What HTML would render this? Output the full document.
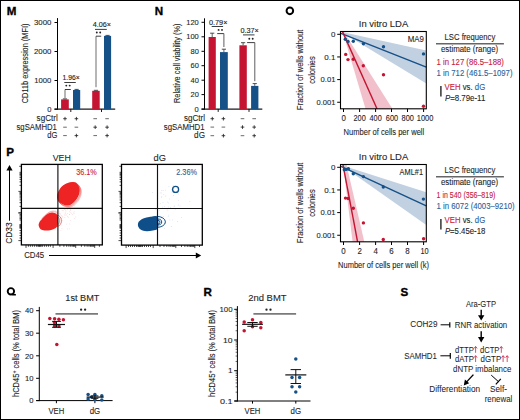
<!DOCTYPE html>
<html><head><meta charset="utf-8"><style>
html,body{margin:0;padding:0;background:#fff;}
#c{position:relative;width:520px;height:420px;overflow:hidden;background:#fff;}
#c svg{position:absolute;left:0;top:0;}
#b{position:absolute;left:0;top:0;width:518px;height:418px;border:1px solid #000;}
text{font-family:"Liberation Sans",sans-serif;}
</style></head><body>
<div id="c">
<svg width="520" height="420" viewBox="0 0 520 420">
<text x="6.70" y="15.00" font-size="11.6" text-anchor="start" fill="#000" font-weight="bold" stroke="#000" stroke-width="0.35">M</text>
<text x="154.80" y="15.00" font-size="11.6" text-anchor="start" fill="#000" font-weight="bold" stroke="#000" stroke-width="0.35">N</text>
<text x="6.30" y="156.40" font-size="11.6" text-anchor="start" fill="#000" font-weight="bold" stroke="#000" stroke-width="0.35">P</text>
<text x="203.60" y="295.60" font-size="11.6" text-anchor="start" fill="#000" font-weight="bold" stroke="#000" stroke-width="0.35">R</text>
<text x="400.60" y="295.60" font-size="11.6" text-anchor="start" fill="#000" font-weight="bold" stroke="#000" stroke-width="0.35">S</text>
<circle cx="289.85" cy="10.85" r="3.3" fill="none" stroke="#000" stroke-width="1.95"/>
<circle cx="10.9" cy="291.35" r="3.2" fill="none" stroke="#000" stroke-width="1.9"/>
<path d="M12.6,293.7 L15.9,293.9 L15.9,295.5 L12.2,295.5 Z" fill="#000"/>
<line x1="57.50" y1="18.10" x2="57.50" y2="109.70" stroke="#000" stroke-width="1" />
<line x1="54.50" y1="109.20" x2="115.20" y2="109.20" stroke="#1a1a1a" stroke-width="1.25" />
<line x1="54.50" y1="22.50" x2="57.50" y2="22.50" stroke="#000" stroke-width="1" />
<text x="34.00" y="24.90" font-size="8.0" text-anchor="start" fill="#1e1e1e" font-weight="normal" stroke="#1e1e1e" stroke-width="0.1" textLength="17.40" lengthAdjust="spacingAndGlyphs">3000</text>
<line x1="54.50" y1="51.50" x2="57.50" y2="51.50" stroke="#000" stroke-width="1" />
<text x="34.00" y="53.90" font-size="8.0" text-anchor="start" fill="#1e1e1e" font-weight="normal" stroke="#1e1e1e" stroke-width="0.1" textLength="17.40" lengthAdjust="spacingAndGlyphs">2000</text>
<line x1="54.50" y1="80.50" x2="57.50" y2="80.50" stroke="#000" stroke-width="1" />
<text x="34.30" y="82.90" font-size="8.0" text-anchor="start" fill="#1e1e1e" font-weight="normal" stroke="#1e1e1e" stroke-width="0.1" textLength="17.10" lengthAdjust="spacingAndGlyphs">1000</text>
<line x1="54.50" y1="109.20" x2="57.50" y2="109.20" stroke="#000" stroke-width="1" />
<text x="47.20" y="111.60" font-size="8.0" text-anchor="start" fill="#1e1e1e" font-weight="normal" stroke="#1e1e1e" stroke-width="0.1" textLength="4.20" lengthAdjust="spacingAndGlyphs">0</text>
<line x1="70.80" y1="109.20" x2="70.80" y2="112.00" stroke="#000" stroke-width="0.9" />
<line x1="101.50" y1="109.20" x2="101.50" y2="112.00" stroke="#000" stroke-width="0.9" />
<rect x="61.10" y="99.40" width="7.70" height="9.80" fill="#c41432" />
<line x1="64.95" y1="99.40" x2="64.95" y2="98.90" stroke="#3a3a3a" stroke-width="0.8" />
<line x1="62.85" y1="98.90" x2="67.05" y2="98.90" stroke="#3a3a3a" stroke-width="0.9" />
<rect x="73.00" y="90.00" width="7.20" height="19.20" fill="#155087" />
<line x1="76.60" y1="90.00" x2="76.60" y2="89.40" stroke="#3a3a3a" stroke-width="0.8" />
<line x1="74.50" y1="89.40" x2="78.70" y2="89.40" stroke="#3a3a3a" stroke-width="0.9" />
<rect x="92.20" y="90.80" width="7.50" height="18.40" fill="#c41432" />
<line x1="95.95" y1="90.80" x2="95.95" y2="90.30" stroke="#3a3a3a" stroke-width="0.8" />
<line x1="93.85" y1="90.30" x2="98.05" y2="90.30" stroke="#3a3a3a" stroke-width="0.9" />
<rect x="104.00" y="35.90" width="7.10" height="73.30" fill="#155087" />
<line x1="107.55" y1="35.90" x2="107.55" y2="35.40" stroke="#3a3a3a" stroke-width="0.8" />
<line x1="105.45" y1="35.40" x2="109.65" y2="35.40" stroke="#3a3a3a" stroke-width="0.9" />
<text x="62.60" y="79.90" font-size="7.0" text-anchor="start" fill="#222" font-weight="normal" stroke="#222" stroke-width="0.12" textLength="17.20" lengthAdjust="spacingAndGlyphs">1.96×</text>
<line x1="64.30" y1="82.50" x2="75.80" y2="82.50" stroke="#333" stroke-width="0.95" />
<circle cx="66.30" cy="85.60" r="0.95" fill="#222" />
<circle cx="69.70" cy="85.60" r="0.95" fill="#222" />
<line x1="65.00" y1="98.20" x2="65.00" y2="89.50" stroke="#666" stroke-width="0.95" />
<line x1="65.00" y1="89.50" x2="70.80" y2="89.50" stroke="#333" stroke-width="0.95" />
<text x="92.80" y="27.40" font-size="7.0" text-anchor="start" fill="#222" font-weight="normal" stroke="#222" stroke-width="0.12" textLength="18.20" lengthAdjust="spacingAndGlyphs">4.06×</text>
<line x1="95.00" y1="29.40" x2="106.80" y2="29.40" stroke="#333" stroke-width="0.95" />
<circle cx="96.80" cy="32.50" r="0.95" fill="#222" />
<circle cx="100.20" cy="32.50" r="0.95" fill="#222" />
<line x1="96.00" y1="87.20" x2="96.00" y2="36.20" stroke="#666" stroke-width="0.95" />
<line x1="96.00" y1="36.20" x2="101.20" y2="36.20" stroke="#333" stroke-width="0.95" />
<text x="36.60" y="121.10" font-size="8.3" text-anchor="start" fill="#1e1e1e" font-weight="normal" stroke="#1e1e1e" stroke-width="0.1" textLength="21.10" lengthAdjust="spacingAndGlyphs">sgCtrl</text>
<text x="16.50" y="129.60" font-size="8.3" text-anchor="start" fill="#1e1e1e" font-weight="normal" stroke="#1e1e1e" stroke-width="0.1" textLength="40.40" lengthAdjust="spacingAndGlyphs">sgSAMHD1</text>
<text x="47.20" y="137.60" font-size="8.3" text-anchor="start" fill="#1e1e1e" font-weight="normal" stroke="#1e1e1e" stroke-width="0.1" textLength="10.10" lengthAdjust="spacingAndGlyphs">dG</text>
<line x1="63.20" y1="118.70" x2="66.80" y2="118.70" stroke="#222" stroke-width="0.85" />
<line x1="65.00" y1="116.90" x2="65.00" y2="120.50" stroke="#222" stroke-width="0.85" />
<line x1="74.60" y1="118.70" x2="78.20" y2="118.70" stroke="#222" stroke-width="0.85" />
<line x1="76.40" y1="116.90" x2="76.40" y2="120.50" stroke="#222" stroke-width="0.85" />
<line x1="93.40" y1="118.70" x2="97.00" y2="118.70" stroke="#444" stroke-width="0.8" />
<line x1="105.30" y1="118.70" x2="108.90" y2="118.70" stroke="#444" stroke-width="0.8" />
<line x1="63.20" y1="127.20" x2="66.80" y2="127.20" stroke="#444" stroke-width="0.8" />
<line x1="74.60" y1="127.20" x2="78.20" y2="127.20" stroke="#444" stroke-width="0.8" />
<line x1="93.40" y1="127.20" x2="97.00" y2="127.20" stroke="#222" stroke-width="0.85" />
<line x1="95.20" y1="125.40" x2="95.20" y2="129.00" stroke="#222" stroke-width="0.85" />
<line x1="105.30" y1="127.20" x2="108.90" y2="127.20" stroke="#222" stroke-width="0.85" />
<line x1="107.10" y1="125.40" x2="107.10" y2="129.00" stroke="#222" stroke-width="0.85" />
<line x1="63.20" y1="135.60" x2="66.80" y2="135.60" stroke="#444" stroke-width="0.8" />
<line x1="74.60" y1="135.60" x2="78.20" y2="135.60" stroke="#222" stroke-width="0.85" />
<line x1="76.40" y1="133.80" x2="76.40" y2="137.40" stroke="#222" stroke-width="0.85" />
<line x1="93.40" y1="135.60" x2="97.00" y2="135.60" stroke="#444" stroke-width="0.8" />
<line x1="105.30" y1="135.60" x2="108.90" y2="135.60" stroke="#222" stroke-width="0.85" />
<line x1="107.10" y1="133.80" x2="107.10" y2="137.40" stroke="#222" stroke-width="0.85" />
<text transform="translate(27.90,63.40) rotate(-90)" x="0" y="0" font-size="8.6" text-anchor="middle" fill="#1e1e1e" font-weight="normal" stroke="#1e1e1e" stroke-width="0.1" textLength="79.70" lengthAdjust="spacingAndGlyphs">CD11b expression (MFI)</text>
<line x1="204.50" y1="18.30" x2="204.50" y2="109.60" stroke="#000" stroke-width="1" />
<line x1="201.50" y1="109.10" x2="262.30" y2="109.10" stroke="#1a1a1a" stroke-width="1.25" />
<line x1="201.50" y1="22.30" x2="204.50" y2="22.30" stroke="#000" stroke-width="1" />
<text x="186.30" y="24.70" font-size="8.0" text-anchor="start" fill="#1e1e1e" font-weight="normal" stroke="#1e1e1e" stroke-width="0.1" textLength="12.50" lengthAdjust="spacingAndGlyphs">120</text>
<line x1="201.50" y1="36.80" x2="204.50" y2="36.80" stroke="#000" stroke-width="1" />
<text x="186.30" y="39.20" font-size="8.0" text-anchor="start" fill="#1e1e1e" font-weight="normal" stroke="#1e1e1e" stroke-width="0.1" textLength="12.50" lengthAdjust="spacingAndGlyphs">100</text>
<line x1="201.50" y1="51.30" x2="204.50" y2="51.30" stroke="#000" stroke-width="1" />
<text x="190.50" y="53.70" font-size="8.0" text-anchor="start" fill="#1e1e1e" font-weight="normal" stroke="#1e1e1e" stroke-width="0.1" textLength="8.30" lengthAdjust="spacingAndGlyphs">80</text>
<line x1="201.50" y1="65.70" x2="204.50" y2="65.70" stroke="#000" stroke-width="1" />
<text x="190.50" y="68.10" font-size="8.0" text-anchor="start" fill="#1e1e1e" font-weight="normal" stroke="#1e1e1e" stroke-width="0.1" textLength="8.30" lengthAdjust="spacingAndGlyphs">60</text>
<line x1="201.50" y1="80.20" x2="204.50" y2="80.20" stroke="#000" stroke-width="1" />
<text x="190.50" y="82.60" font-size="8.0" text-anchor="start" fill="#1e1e1e" font-weight="normal" stroke="#1e1e1e" stroke-width="0.1" textLength="8.30" lengthAdjust="spacingAndGlyphs">40</text>
<line x1="201.50" y1="94.60" x2="204.50" y2="94.60" stroke="#000" stroke-width="1" />
<text x="190.50" y="97.00" font-size="8.0" text-anchor="start" fill="#1e1e1e" font-weight="normal" stroke="#1e1e1e" stroke-width="0.1" textLength="8.30" lengthAdjust="spacingAndGlyphs">20</text>
<line x1="201.50" y1="109.10" x2="204.50" y2="109.10" stroke="#000" stroke-width="1" />
<text x="194.60" y="111.50" font-size="8.0" text-anchor="start" fill="#1e1e1e" font-weight="normal" stroke="#1e1e1e" stroke-width="0.1" textLength="4.20" lengthAdjust="spacingAndGlyphs">0</text>
<line x1="218.20" y1="109.10" x2="218.20" y2="111.90" stroke="#000" stroke-width="0.9" />
<line x1="249.00" y1="109.10" x2="249.00" y2="111.90" stroke="#000" stroke-width="0.9" />
<rect x="208.60" y="37.00" width="7.20" height="72.10" fill="#c41432" />
<line x1="212.20" y1="37.00" x2="212.20" y2="33.20" stroke="#3a3a3a" stroke-width="0.8" />
<line x1="210.10" y1="33.20" x2="214.30" y2="33.20" stroke="#3a3a3a" stroke-width="0.9" />
<rect x="220.00" y="52.10" width="7.80" height="57.00" fill="#155087" />
<line x1="223.90" y1="52.10" x2="223.90" y2="49.20" stroke="#3a3a3a" stroke-width="0.8" />
<line x1="221.80" y1="49.20" x2="226.00" y2="49.20" stroke="#3a3a3a" stroke-width="0.9" />
<rect x="239.40" y="45.30" width="7.40" height="63.80" fill="#c41432" />
<line x1="243.10" y1="45.30" x2="243.10" y2="42.70" stroke="#3a3a3a" stroke-width="0.8" />
<line x1="241.00" y1="42.70" x2="245.20" y2="42.70" stroke="#3a3a3a" stroke-width="0.9" />
<rect x="251.10" y="85.90" width="7.30" height="23.20" fill="#155087" />
<line x1="254.75" y1="85.90" x2="254.75" y2="83.60" stroke="#3a3a3a" stroke-width="0.8" />
<line x1="252.65" y1="83.60" x2="256.85" y2="83.60" stroke="#3a3a3a" stroke-width="0.9" />
<text x="209.00" y="24.50" font-size="7.0" text-anchor="start" fill="#222" font-weight="normal" stroke="#222" stroke-width="0.12" textLength="18.40" lengthAdjust="spacingAndGlyphs">0.79×</text>
<line x1="211.70" y1="26.50" x2="223.10" y2="26.50" stroke="#333" stroke-width="0.95" />
<circle cx="218.60" cy="29.90" r="0.95" fill="#222" />
<circle cx="222.00" cy="29.90" r="0.95" fill="#222" />
<line x1="217.20" y1="33.60" x2="223.90" y2="33.60" stroke="#333" stroke-width="0.95" />
<line x1="223.90" y1="33.60" x2="223.90" y2="47.00" stroke="#555" stroke-width="0.95" />
<text x="240.40" y="33.20" font-size="7.0" text-anchor="start" fill="#222" font-weight="normal" stroke="#222" stroke-width="0.12" textLength="18.40" lengthAdjust="spacingAndGlyphs">0.37×</text>
<line x1="243.00" y1="34.90" x2="254.50" y2="34.90" stroke="#333" stroke-width="0.95" />
<circle cx="249.30" cy="38.80" r="0.95" fill="#222" />
<circle cx="252.70" cy="38.80" r="0.95" fill="#222" />
<line x1="247.10" y1="42.60" x2="254.80" y2="42.60" stroke="#333" stroke-width="0.95" />
<line x1="254.80" y1="42.60" x2="254.80" y2="81.20" stroke="#555" stroke-width="0.95" />
<text x="184.00" y="121.10" font-size="8.3" text-anchor="start" fill="#1e1e1e" font-weight="normal" stroke="#1e1e1e" stroke-width="0.1" textLength="21.00" lengthAdjust="spacingAndGlyphs">sgCtrl</text>
<text x="163.80" y="129.70" font-size="8.3" text-anchor="start" fill="#1e1e1e" font-weight="normal" stroke="#1e1e1e" stroke-width="0.1" textLength="40.80" lengthAdjust="spacingAndGlyphs">sgSAMHD1</text>
<text x="194.10" y="137.60" font-size="8.3" text-anchor="start" fill="#1e1e1e" font-weight="normal" stroke="#1e1e1e" stroke-width="0.1" textLength="10.90" lengthAdjust="spacingAndGlyphs">dG</text>
<line x1="210.50" y1="118.70" x2="214.10" y2="118.70" stroke="#222" stroke-width="0.85" />
<line x1="212.30" y1="116.90" x2="212.30" y2="120.50" stroke="#222" stroke-width="0.85" />
<line x1="221.60" y1="118.70" x2="225.20" y2="118.70" stroke="#222" stroke-width="0.85" />
<line x1="223.40" y1="116.90" x2="223.40" y2="120.50" stroke="#222" stroke-width="0.85" />
<line x1="240.70" y1="118.70" x2="244.30" y2="118.70" stroke="#444" stroke-width="0.8" />
<line x1="252.40" y1="118.70" x2="256.00" y2="118.70" stroke="#444" stroke-width="0.8" />
<line x1="210.50" y1="127.10" x2="214.10" y2="127.10" stroke="#444" stroke-width="0.8" />
<line x1="221.60" y1="127.10" x2="225.20" y2="127.10" stroke="#444" stroke-width="0.8" />
<line x1="240.70" y1="127.10" x2="244.30" y2="127.10" stroke="#222" stroke-width="0.85" />
<line x1="242.50" y1="125.30" x2="242.50" y2="128.90" stroke="#222" stroke-width="0.85" />
<line x1="252.40" y1="127.10" x2="256.00" y2="127.10" stroke="#222" stroke-width="0.85" />
<line x1="254.20" y1="125.30" x2="254.20" y2="128.90" stroke="#222" stroke-width="0.85" />
<line x1="210.50" y1="135.70" x2="214.10" y2="135.70" stroke="#444" stroke-width="0.8" />
<line x1="221.60" y1="135.70" x2="225.20" y2="135.70" stroke="#222" stroke-width="0.85" />
<line x1="223.40" y1="133.90" x2="223.40" y2="137.50" stroke="#222" stroke-width="0.85" />
<line x1="240.70" y1="135.70" x2="244.30" y2="135.70" stroke="#444" stroke-width="0.8" />
<line x1="252.40" y1="135.70" x2="256.00" y2="135.70" stroke="#222" stroke-width="0.85" />
<line x1="254.20" y1="133.90" x2="254.20" y2="137.50" stroke="#222" stroke-width="0.85" />
<text transform="translate(180.00,63.20) rotate(-90)" x="0" y="0" font-size="9.4" text-anchor="middle" fill="#1e1e1e" font-weight="normal" stroke="#1e1e1e" stroke-width="0.1" textLength="79.50" lengthAdjust="spacingAndGlyphs">Relative cell viability (%)</text>
<path d="M342.60,31.60 L343.60,31.60 L392.40,108.80 L365.50,108.80 Z" fill="#f2c0ca"/>
<path d="M341.00,31.80 L426.30,50.60 L426.30,83.60 Z" fill="#c2d1e2"/>
<line x1="341.00" y1="33.30" x2="426.30" y2="67.20" stroke="#155087" stroke-width="1.4" />
<line x1="342.50" y1="31.60" x2="377.00" y2="108.80" stroke="#c41432" stroke-width="1.4" />
<circle cx="345.30" cy="39.20" r="1.70" fill="#155087" />
<circle cx="348.00" cy="41.40" r="1.70" fill="#155087" />
<circle cx="353.30" cy="41.30" r="1.70" fill="#155087" />
<circle cx="363.40" cy="43.80" r="1.70" fill="#155087" />
<circle cx="383.50" cy="46.80" r="1.70" fill="#155087" />
<circle cx="423.50" cy="53.90" r="1.70" fill="#155087" />
<circle cx="345.70" cy="54.40" r="1.70" fill="#c41432" />
<circle cx="348.00" cy="59.60" r="1.70" fill="#c41432" />
<circle cx="353.30" cy="59.20" r="1.70" fill="#c41432" />
<circle cx="363.30" cy="65.70" r="1.70" fill="#c41432" />
<circle cx="383.50" cy="74.80" r="1.70" fill="#c41432" />
<circle cx="423.50" cy="106.30" r="1.70" fill="#c41432" />
<rect x="340.5" y="31.5" width="85.80" height="77.30" fill="none" stroke="#000" stroke-width="1.1"/>
<line x1="337.20" y1="34.30" x2="340.50" y2="34.30" stroke="#000" stroke-width="1" />
<text x="331.00" y="36.90" font-size="7.9" text-anchor="start" fill="#1e1e1e" font-weight="normal" stroke="#1e1e1e" stroke-width="0.1" textLength="4.40" lengthAdjust="spacingAndGlyphs">0</text>
<line x1="337.20" y1="56.95" x2="340.50" y2="56.95" stroke="#000" stroke-width="1" />
<text x="324.30" y="59.55" font-size="7.9" text-anchor="start" fill="#1e1e1e" font-weight="normal" stroke="#1e1e1e" stroke-width="0.1" textLength="11.10" lengthAdjust="spacingAndGlyphs">0.1</text>
<line x1="337.20" y1="79.60" x2="340.50" y2="79.60" stroke="#000" stroke-width="1" />
<text x="320.50" y="82.20" font-size="7.9" text-anchor="start" fill="#1e1e1e" font-weight="normal" stroke="#1e1e1e" stroke-width="0.1" textLength="14.90" lengthAdjust="spacingAndGlyphs">0.01</text>
<line x1="337.20" y1="102.25" x2="340.50" y2="102.25" stroke="#000" stroke-width="1" />
<text x="316.50" y="104.85" font-size="7.9" text-anchor="start" fill="#1e1e1e" font-weight="normal" stroke="#1e1e1e" stroke-width="0.1" textLength="18.90" lengthAdjust="spacingAndGlyphs">0.001</text>
<line x1="343.50" y1="108.80" x2="343.50" y2="112.00" stroke="#000" stroke-width="1" />
<text x="343.70" y="121.40" font-size="8.3" text-anchor="middle" fill="#1e1e1e" font-weight="normal" stroke="#1e1e1e" stroke-width="0.1" textLength="4.40" lengthAdjust="spacingAndGlyphs">0</text>
<line x1="359.60" y1="108.80" x2="359.60" y2="112.00" stroke="#000" stroke-width="1" />
<text x="359.60" y="121.40" font-size="8.3" text-anchor="middle" fill="#1e1e1e" font-weight="normal" stroke="#1e1e1e" stroke-width="0.1" textLength="12.20" lengthAdjust="spacingAndGlyphs">200</text>
<line x1="375.60" y1="108.80" x2="375.60" y2="112.00" stroke="#000" stroke-width="1" />
<text x="375.60" y="121.40" font-size="8.3" text-anchor="middle" fill="#1e1e1e" font-weight="normal" stroke="#1e1e1e" stroke-width="0.1" textLength="12.20" lengthAdjust="spacingAndGlyphs">400</text>
<line x1="391.50" y1="108.80" x2="391.50" y2="112.00" stroke="#000" stroke-width="1" />
<text x="392.00" y="121.40" font-size="8.3" text-anchor="middle" fill="#1e1e1e" font-weight="normal" stroke="#1e1e1e" stroke-width="0.1" textLength="12.30" lengthAdjust="spacingAndGlyphs">600</text>
<line x1="407.50" y1="108.80" x2="407.50" y2="112.00" stroke="#000" stroke-width="1" />
<text x="407.70" y="121.40" font-size="8.3" text-anchor="middle" fill="#1e1e1e" font-weight="normal" stroke="#1e1e1e" stroke-width="0.1" textLength="12.30" lengthAdjust="spacingAndGlyphs">800</text>
<line x1="423.60" y1="108.80" x2="423.60" y2="112.00" stroke="#000" stroke-width="1" />
<text x="425.10" y="121.40" font-size="8.3" text-anchor="middle" fill="#1e1e1e" font-weight="normal" stroke="#1e1e1e" stroke-width="0.1" textLength="16.60" lengthAdjust="spacingAndGlyphs">1000</text>
<text x="343.60" y="134.70" font-size="9.5" text-anchor="start" fill="#1e1e1e" font-weight="normal" stroke="#1e1e1e" stroke-width="0.1" textLength="80.60" lengthAdjust="spacingAndGlyphs">Number of cells per well</text>
<text x="358.80" y="27.00" font-size="9.5" text-anchor="start" fill="#1e1e1e" font-weight="normal" stroke="#1e1e1e" stroke-width="0.1" textLength="49.40" lengthAdjust="spacingAndGlyphs">In vitro LDA</text>
<text x="407.70" y="41.60" font-size="8.3" text-anchor="start" fill="#1e1e1e" font-weight="normal" stroke="#1e1e1e" stroke-width="0.1" textLength="16.20" lengthAdjust="spacingAndGlyphs">MA9</text>
<text transform="translate(303.00,69.80) rotate(-90)" x="0" y="0" font-size="9.5" text-anchor="middle" fill="#1e1e1e" font-weight="normal" stroke="#1e1e1e" stroke-width="0.1" textLength="80.30" lengthAdjust="spacingAndGlyphs">Fraction of wells without</text>
<text transform="translate(314.50,70.00) rotate(-90)" x="0" y="0" font-size="9.5" text-anchor="middle" fill="#1e1e1e" font-weight="normal" stroke="#1e1e1e" stroke-width="0.1" textLength="27.50" lengthAdjust="spacingAndGlyphs">colonies</text>
<text x="444.60" y="39.70" font-size="8.4" text-anchor="start" fill="#1e1e1e" font-weight="normal" stroke="#1e1e1e" stroke-width="0.1" textLength="50.70" lengthAdjust="spacingAndGlyphs">LSC frequency</text>
<line x1="436.00" y1="43.80" x2="503.90" y2="43.80" stroke="#666" stroke-width="1.5" />
<text x="440.90" y="51.80" font-size="8.4" text-anchor="start" fill="#1e1e1e" font-weight="normal" stroke="#1e1e1e" stroke-width="0.1" textLength="57.30" lengthAdjust="spacingAndGlyphs">estimate (range)</text>
<text x="436.60" y="65.30" font-size="8.5" text-anchor="start" fill="#c8173a" font-weight="normal" stroke="#c8173a" stroke-width="0.1" textLength="67.30" lengthAdjust="spacingAndGlyphs">1 in 127 (86.5–188)</text>
<text x="436.60" y="75.80" font-size="8.5" text-anchor="start" fill="#2a629a" font-weight="normal" stroke="#2a629a" stroke-width="0.1" textLength="75.90" lengthAdjust="spacingAndGlyphs">1 in 712 (461.5–1097)</text>
<line x1="440.90" y1="85.90" x2="440.90" y2="96.60" stroke="#333" stroke-width="1.5" />
<text x="444.6" y="89.60" font-size="8.2" fill="#1e1e1e" stroke="#1e1e1e" stroke-width="0.1" textLength="40.6" lengthAdjust="spacingAndGlyphs"><tspan fill="#c8173a" stroke="#c8173a">VEH</tspan> vs. <tspan fill="#2a629a" stroke="#2a629a">dG</tspan></text>
<text x="444.9" y="100.90" font-size="8.2" fill="#1e1e1e" stroke="#1e1e1e" stroke-width="0.1" textLength="40.4" lengthAdjust="spacingAndGlyphs"><tspan font-style="italic">P</tspan>=8.79e-11</text>
<path d="M343.20,164.90 L346.60,164.90 L364.30,241.80 L352.60,241.80 Z" fill="#f2c0ca"/>
<path d="M341.00,165.00 L426.30,192.30 L426.30,224.90 Z" fill="#c2d1e2"/>
<line x1="341.00" y1="166.30" x2="426.30" y2="205.90" stroke="#155087" stroke-width="1.4" />
<line x1="343.00" y1="164.90" x2="357.60" y2="241.80" stroke="#c41432" stroke-width="1.4" />
<circle cx="344.30" cy="169.80" r="1.70" fill="#155087" />
<circle cx="346.20" cy="169.40" r="1.70" fill="#155087" />
<circle cx="348.40" cy="168.80" r="1.70" fill="#155087" />
<circle cx="353.30" cy="173.70" r="1.70" fill="#155087" />
<circle cx="363.40" cy="176.60" r="1.70" fill="#155087" />
<circle cx="383.30" cy="187.00" r="1.70" fill="#155087" />
<circle cx="423.40" cy="199.10" r="1.70" fill="#155087" />
<circle cx="345.50" cy="198.10" r="1.70" fill="#c41432" />
<circle cx="348.20" cy="198.50" r="1.70" fill="#c41432" />
<circle cx="353.30" cy="208.30" r="1.70" fill="#c41432" />
<circle cx="363.40" cy="222.90" r="1.70" fill="#c41432" />
<circle cx="383.30" cy="239.50" r="1.70" fill="#c41432" />
<circle cx="423.60" cy="238.70" r="1.70" fill="#c41432" />
<rect x="340.5" y="164.5" width="85.80" height="77.30" fill="none" stroke="#000" stroke-width="1.1"/>
<line x1="337.20" y1="167.30" x2="340.50" y2="167.30" stroke="#000" stroke-width="1" />
<text x="331.00" y="169.90" font-size="7.9" text-anchor="start" fill="#1e1e1e" font-weight="normal" stroke="#1e1e1e" stroke-width="0.1" textLength="4.40" lengthAdjust="spacingAndGlyphs">0</text>
<line x1="337.20" y1="189.95" x2="340.50" y2="189.95" stroke="#000" stroke-width="1" />
<text x="324.30" y="192.55" font-size="7.9" text-anchor="start" fill="#1e1e1e" font-weight="normal" stroke="#1e1e1e" stroke-width="0.1" textLength="11.10" lengthAdjust="spacingAndGlyphs">0.1</text>
<line x1="337.20" y1="212.60" x2="340.50" y2="212.60" stroke="#000" stroke-width="1" />
<text x="320.50" y="215.20" font-size="7.9" text-anchor="start" fill="#1e1e1e" font-weight="normal" stroke="#1e1e1e" stroke-width="0.1" textLength="14.90" lengthAdjust="spacingAndGlyphs">0.01</text>
<line x1="337.20" y1="235.25" x2="340.50" y2="235.25" stroke="#000" stroke-width="1" />
<text x="316.50" y="237.85" font-size="7.9" text-anchor="start" fill="#1e1e1e" font-weight="normal" stroke="#1e1e1e" stroke-width="0.1" textLength="18.90" lengthAdjust="spacingAndGlyphs">0.001</text>
<line x1="343.50" y1="241.80" x2="343.50" y2="245.00" stroke="#000" stroke-width="1" />
<text x="343.50" y="254.40" font-size="8.3" text-anchor="middle" fill="#1e1e1e" font-weight="normal" stroke="#1e1e1e" stroke-width="0.1" textLength="4.40" lengthAdjust="spacingAndGlyphs">0</text>
<line x1="359.60" y1="241.80" x2="359.60" y2="245.00" stroke="#000" stroke-width="1" />
<text x="359.60" y="254.40" font-size="8.3" text-anchor="middle" fill="#1e1e1e" font-weight="normal" stroke="#1e1e1e" stroke-width="0.1" textLength="4.40" lengthAdjust="spacingAndGlyphs">2</text>
<line x1="375.60" y1="241.80" x2="375.60" y2="245.00" stroke="#000" stroke-width="1" />
<text x="375.60" y="254.40" font-size="8.3" text-anchor="middle" fill="#1e1e1e" font-weight="normal" stroke="#1e1e1e" stroke-width="0.1" textLength="4.40" lengthAdjust="spacingAndGlyphs">4</text>
<line x1="391.50" y1="241.80" x2="391.50" y2="245.00" stroke="#000" stroke-width="1" />
<text x="391.50" y="254.40" font-size="8.3" text-anchor="middle" fill="#1e1e1e" font-weight="normal" stroke="#1e1e1e" stroke-width="0.1" textLength="4.40" lengthAdjust="spacingAndGlyphs">6</text>
<line x1="407.50" y1="241.80" x2="407.50" y2="245.00" stroke="#000" stroke-width="1" />
<text x="407.50" y="254.40" font-size="8.3" text-anchor="middle" fill="#1e1e1e" font-weight="normal" stroke="#1e1e1e" stroke-width="0.1" textLength="4.40" lengthAdjust="spacingAndGlyphs">8</text>
<line x1="423.60" y1="241.80" x2="423.60" y2="245.00" stroke="#000" stroke-width="1" />
<text x="424.60" y="254.40" font-size="8.3" text-anchor="middle" fill="#1e1e1e" font-weight="normal" stroke="#1e1e1e" stroke-width="0.1" textLength="8.20" lengthAdjust="spacingAndGlyphs">10</text>
<text x="338.10" y="267.70" font-size="9.5" text-anchor="start" fill="#1e1e1e" font-weight="normal" stroke="#1e1e1e" stroke-width="0.1" textLength="90.90" lengthAdjust="spacingAndGlyphs">Number of cells per well (k)</text>
<text x="358.80" y="160.00" font-size="9.5" text-anchor="start" fill="#1e1e1e" font-weight="normal" stroke="#1e1e1e" stroke-width="0.1" textLength="49.40" lengthAdjust="spacingAndGlyphs">In vitro LDA</text>
<text x="399.60" y="174.60" font-size="8.3" text-anchor="start" fill="#1e1e1e" font-weight="normal" stroke="#1e1e1e" stroke-width="0.1" textLength="23.40" lengthAdjust="spacingAndGlyphs">AML#1</text>
<text transform="translate(303.00,202.80) rotate(-90)" x="0" y="0" font-size="9.5" text-anchor="middle" fill="#1e1e1e" font-weight="normal" stroke="#1e1e1e" stroke-width="0.1" textLength="80.30" lengthAdjust="spacingAndGlyphs">Fraction of wells without</text>
<text transform="translate(314.50,203.00) rotate(-90)" x="0" y="0" font-size="9.5" text-anchor="middle" fill="#1e1e1e" font-weight="normal" stroke="#1e1e1e" stroke-width="0.1" textLength="27.50" lengthAdjust="spacingAndGlyphs">colonies</text>
<text x="444.60" y="172.70" font-size="8.4" text-anchor="start" fill="#1e1e1e" font-weight="normal" stroke="#1e1e1e" stroke-width="0.1" textLength="50.70" lengthAdjust="spacingAndGlyphs">LSC frequency</text>
<line x1="436.00" y1="176.80" x2="503.90" y2="176.80" stroke="#666" stroke-width="1.5" />
<text x="440.90" y="184.80" font-size="8.4" text-anchor="start" fill="#1e1e1e" font-weight="normal" stroke="#1e1e1e" stroke-width="0.1" textLength="57.30" lengthAdjust="spacingAndGlyphs">estimate (range)</text>
<text x="436.60" y="198.30" font-size="8.5" text-anchor="start" fill="#c8173a" font-weight="normal" stroke="#c8173a" stroke-width="0.1" textLength="58.80" lengthAdjust="spacingAndGlyphs">1 in 540 (356–819)</text>
<text x="436.60" y="208.80" font-size="8.5" text-anchor="start" fill="#2a629a" font-weight="normal" stroke="#2a629a" stroke-width="0.1" textLength="78.00" lengthAdjust="spacingAndGlyphs">1 in 6072 (4003–9210)</text>
<line x1="440.90" y1="218.90" x2="440.90" y2="229.60" stroke="#333" stroke-width="1.5" />
<text x="444.6" y="222.60" font-size="8.2" fill="#1e1e1e" stroke="#1e1e1e" stroke-width="0.1" textLength="40.6" lengthAdjust="spacingAndGlyphs"><tspan fill="#c8173a" stroke="#c8173a">VEH</tspan> vs. <tspan fill="#2a629a" stroke="#2a629a">dG</tspan></text>
<text x="444.9" y="233.90" font-size="8.2" fill="#1e1e1e" stroke="#1e1e1e" stroke-width="0.1" textLength="40.4" lengthAdjust="spacingAndGlyphs"><tspan font-style="italic">P</tspan>=5.45e-18</text>
<line x1="18.40" y1="191.40" x2="21.40" y2="191.40" stroke="#111" stroke-width="0.75" />
<line x1="19.50" y1="185.38" x2="21.40" y2="185.38" stroke="#111" stroke-width="0.75" />
<line x1="19.50" y1="181.86" x2="21.40" y2="181.86" stroke="#111" stroke-width="0.75" />
<line x1="19.50" y1="179.36" x2="21.40" y2="179.36" stroke="#111" stroke-width="0.75" />
<line x1="19.50" y1="177.42" x2="21.40" y2="177.42" stroke="#111" stroke-width="0.75" />
<line x1="19.50" y1="175.84" x2="21.40" y2="175.84" stroke="#111" stroke-width="0.75" />
<line x1="19.50" y1="174.50" x2="21.40" y2="174.50" stroke="#111" stroke-width="0.75" />
<line x1="19.50" y1="173.34" x2="21.40" y2="173.34" stroke="#111" stroke-width="0.75" />
<line x1="19.50" y1="172.32" x2="21.40" y2="172.32" stroke="#111" stroke-width="0.75" />
<line x1="18.40" y1="212.90" x2="21.40" y2="212.90" stroke="#111" stroke-width="0.75" />
<line x1="19.50" y1="206.43" x2="21.40" y2="206.43" stroke="#111" stroke-width="0.75" />
<line x1="19.50" y1="202.64" x2="21.40" y2="202.64" stroke="#111" stroke-width="0.75" />
<line x1="19.50" y1="199.96" x2="21.40" y2="199.96" stroke="#111" stroke-width="0.75" />
<line x1="19.50" y1="197.87" x2="21.40" y2="197.87" stroke="#111" stroke-width="0.75" />
<line x1="19.50" y1="196.17" x2="21.40" y2="196.17" stroke="#111" stroke-width="0.75" />
<line x1="19.50" y1="194.73" x2="21.40" y2="194.73" stroke="#111" stroke-width="0.75" />
<line x1="19.50" y1="193.48" x2="21.40" y2="193.48" stroke="#111" stroke-width="0.75" />
<line x1="19.50" y1="192.38" x2="21.40" y2="192.38" stroke="#111" stroke-width="0.75" />
<line x1="19.20" y1="166.30" x2="21.40" y2="166.30" stroke="#111" stroke-width="0.75" />
<line x1="18.40" y1="212.90" x2="21.40" y2="212.90" stroke="#111" stroke-width="0.75" />
<line x1="19.50" y1="214.60" x2="21.40" y2="214.60" stroke="#111" stroke-width="0.75" />
<line x1="19.50" y1="215.80" x2="21.40" y2="215.80" stroke="#111" stroke-width="0.75" />
<line x1="19.50" y1="217.20" x2="21.40" y2="217.20" stroke="#111" stroke-width="0.75" />
<line x1="19.50" y1="218.60" x2="21.40" y2="218.60" stroke="#111" stroke-width="0.75" />
<line x1="19.50" y1="220.00" x2="21.40" y2="220.00" stroke="#111" stroke-width="0.75" />
<line x1="19.50" y1="224.60" x2="21.40" y2="224.60" stroke="#111" stroke-width="0.75" />
<line x1="19.50" y1="225.30" x2="21.40" y2="225.30" stroke="#111" stroke-width="0.75" />
<line x1="19.50" y1="226.00" x2="21.40" y2="226.00" stroke="#111" stroke-width="0.75" />
<line x1="19.50" y1="226.70" x2="21.40" y2="226.70" stroke="#111" stroke-width="0.75" />
<line x1="19.50" y1="227.40" x2="21.40" y2="227.40" stroke="#111" stroke-width="0.75" />
<line x1="19.50" y1="228.20" x2="21.40" y2="228.20" stroke="#111" stroke-width="0.75" />
<line x1="19.50" y1="230.50" x2="21.40" y2="230.50" stroke="#111" stroke-width="0.75" />
<line x1="19.50" y1="233.00" x2="21.40" y2="233.00" stroke="#111" stroke-width="0.75" />
<line x1="19.50" y1="235.50" x2="21.40" y2="235.50" stroke="#111" stroke-width="0.75" />
<line x1="19.50" y1="238.00" x2="21.40" y2="238.00" stroke="#111" stroke-width="0.75" />
<line x1="18.40" y1="240.60" x2="21.40" y2="240.60" stroke="#111" stroke-width="0.75" />
<line x1="26.00" y1="244.90" x2="26.00" y2="247.90" stroke="#111" stroke-width="0.75" />
<line x1="28.40" y1="244.90" x2="28.40" y2="246.80" stroke="#111" stroke-width="0.75" />
<line x1="30.40" y1="244.90" x2="30.40" y2="246.80" stroke="#111" stroke-width="0.75" />
<line x1="32.40" y1="244.90" x2="32.40" y2="246.80" stroke="#111" stroke-width="0.75" />
<line x1="34.40" y1="244.90" x2="34.40" y2="246.80" stroke="#111" stroke-width="0.75" />
<line x1="36.40" y1="244.90" x2="36.40" y2="246.80" stroke="#111" stroke-width="0.75" />
<line x1="37.90" y1="244.90" x2="37.90" y2="246.80" stroke="#111" stroke-width="0.75" />
<line x1="38.70" y1="244.90" x2="38.70" y2="246.80" stroke="#111" stroke-width="0.75" />
<line x1="39.50" y1="244.90" x2="39.50" y2="246.80" stroke="#111" stroke-width="0.75" />
<line x1="40.30" y1="244.90" x2="40.30" y2="246.80" stroke="#111" stroke-width="0.75" />
<line x1="41.10" y1="244.90" x2="41.10" y2="246.80" stroke="#111" stroke-width="0.75" />
<line x1="42.40" y1="244.90" x2="42.40" y2="246.80" stroke="#111" stroke-width="0.75" />
<line x1="44.40" y1="244.90" x2="44.40" y2="246.80" stroke="#111" stroke-width="0.75" />
<line x1="46.40" y1="244.90" x2="46.40" y2="246.80" stroke="#111" stroke-width="0.75" />
<line x1="48.40" y1="244.90" x2="48.40" y2="246.80" stroke="#111" stroke-width="0.75" />
<line x1="50.40" y1="244.90" x2="50.40" y2="246.80" stroke="#111" stroke-width="0.75" />
<line x1="53.10" y1="244.90" x2="53.10" y2="247.90" stroke="#111" stroke-width="0.75" />
<line x1="59.90" y1="244.90" x2="59.90" y2="246.80" stroke="#111" stroke-width="0.75" />
<line x1="63.88" y1="244.90" x2="63.88" y2="246.80" stroke="#111" stroke-width="0.75" />
<line x1="66.71" y1="244.90" x2="66.71" y2="246.80" stroke="#111" stroke-width="0.75" />
<line x1="68.90" y1="244.90" x2="68.90" y2="246.80" stroke="#111" stroke-width="0.75" />
<line x1="70.69" y1="244.90" x2="70.69" y2="246.80" stroke="#111" stroke-width="0.75" />
<line x1="72.20" y1="244.90" x2="72.20" y2="246.80" stroke="#111" stroke-width="0.75" />
<line x1="73.51" y1="244.90" x2="73.51" y2="246.80" stroke="#111" stroke-width="0.75" />
<line x1="74.67" y1="244.90" x2="74.67" y2="246.80" stroke="#111" stroke-width="0.75" />
<line x1="75.70" y1="244.90" x2="75.70" y2="247.90" stroke="#111" stroke-width="0.75" />
<line x1="81.42" y1="244.90" x2="81.42" y2="246.80" stroke="#111" stroke-width="0.75" />
<line x1="84.77" y1="244.90" x2="84.77" y2="246.80" stroke="#111" stroke-width="0.75" />
<line x1="87.14" y1="244.90" x2="87.14" y2="246.80" stroke="#111" stroke-width="0.75" />
<line x1="88.98" y1="244.90" x2="88.98" y2="246.80" stroke="#111" stroke-width="0.75" />
<line x1="90.48" y1="244.90" x2="90.48" y2="246.80" stroke="#111" stroke-width="0.75" />
<line x1="91.76" y1="244.90" x2="91.76" y2="246.80" stroke="#111" stroke-width="0.75" />
<line x1="92.86" y1="244.90" x2="92.86" y2="246.80" stroke="#111" stroke-width="0.75" />
<line x1="93.83" y1="244.90" x2="93.83" y2="246.80" stroke="#111" stroke-width="0.75" />
<line x1="94.70" y1="244.90" x2="94.70" y2="247.90" stroke="#111" stroke-width="0.75" />
<line x1="99.40" y1="244.90" x2="99.40" y2="246.80" stroke="#111" stroke-width="0.75" />
<line x1="118.50" y1="191.40" x2="121.50" y2="191.40" stroke="#111" stroke-width="0.75" />
<line x1="119.60" y1="185.38" x2="121.50" y2="185.38" stroke="#111" stroke-width="0.75" />
<line x1="119.60" y1="181.86" x2="121.50" y2="181.86" stroke="#111" stroke-width="0.75" />
<line x1="119.60" y1="179.36" x2="121.50" y2="179.36" stroke="#111" stroke-width="0.75" />
<line x1="119.60" y1="177.42" x2="121.50" y2="177.42" stroke="#111" stroke-width="0.75" />
<line x1="119.60" y1="175.84" x2="121.50" y2="175.84" stroke="#111" stroke-width="0.75" />
<line x1="119.60" y1="174.50" x2="121.50" y2="174.50" stroke="#111" stroke-width="0.75" />
<line x1="119.60" y1="173.34" x2="121.50" y2="173.34" stroke="#111" stroke-width="0.75" />
<line x1="119.60" y1="172.32" x2="121.50" y2="172.32" stroke="#111" stroke-width="0.75" />
<line x1="118.50" y1="212.90" x2="121.50" y2="212.90" stroke="#111" stroke-width="0.75" />
<line x1="119.60" y1="206.43" x2="121.50" y2="206.43" stroke="#111" stroke-width="0.75" />
<line x1="119.60" y1="202.64" x2="121.50" y2="202.64" stroke="#111" stroke-width="0.75" />
<line x1="119.60" y1="199.96" x2="121.50" y2="199.96" stroke="#111" stroke-width="0.75" />
<line x1="119.60" y1="197.87" x2="121.50" y2="197.87" stroke="#111" stroke-width="0.75" />
<line x1="119.60" y1="196.17" x2="121.50" y2="196.17" stroke="#111" stroke-width="0.75" />
<line x1="119.60" y1="194.73" x2="121.50" y2="194.73" stroke="#111" stroke-width="0.75" />
<line x1="119.60" y1="193.48" x2="121.50" y2="193.48" stroke="#111" stroke-width="0.75" />
<line x1="119.60" y1="192.38" x2="121.50" y2="192.38" stroke="#111" stroke-width="0.75" />
<line x1="119.30" y1="166.30" x2="121.50" y2="166.30" stroke="#111" stroke-width="0.75" />
<line x1="118.50" y1="212.90" x2="121.50" y2="212.90" stroke="#111" stroke-width="0.75" />
<line x1="119.60" y1="214.60" x2="121.50" y2="214.60" stroke="#111" stroke-width="0.75" />
<line x1="119.60" y1="215.80" x2="121.50" y2="215.80" stroke="#111" stroke-width="0.75" />
<line x1="119.60" y1="217.20" x2="121.50" y2="217.20" stroke="#111" stroke-width="0.75" />
<line x1="119.60" y1="218.60" x2="121.50" y2="218.60" stroke="#111" stroke-width="0.75" />
<line x1="119.60" y1="220.00" x2="121.50" y2="220.00" stroke="#111" stroke-width="0.75" />
<line x1="119.60" y1="224.60" x2="121.50" y2="224.60" stroke="#111" stroke-width="0.75" />
<line x1="119.60" y1="225.30" x2="121.50" y2="225.30" stroke="#111" stroke-width="0.75" />
<line x1="119.60" y1="226.00" x2="121.50" y2="226.00" stroke="#111" stroke-width="0.75" />
<line x1="119.60" y1="226.70" x2="121.50" y2="226.70" stroke="#111" stroke-width="0.75" />
<line x1="119.60" y1="227.40" x2="121.50" y2="227.40" stroke="#111" stroke-width="0.75" />
<line x1="119.60" y1="228.20" x2="121.50" y2="228.20" stroke="#111" stroke-width="0.75" />
<line x1="119.60" y1="230.50" x2="121.50" y2="230.50" stroke="#111" stroke-width="0.75" />
<line x1="119.60" y1="233.00" x2="121.50" y2="233.00" stroke="#111" stroke-width="0.75" />
<line x1="119.60" y1="235.50" x2="121.50" y2="235.50" stroke="#111" stroke-width="0.75" />
<line x1="119.60" y1="238.00" x2="121.50" y2="238.00" stroke="#111" stroke-width="0.75" />
<line x1="118.50" y1="240.60" x2="121.50" y2="240.60" stroke="#111" stroke-width="0.75" />
<line x1="126.10" y1="245.10" x2="126.10" y2="248.10" stroke="#111" stroke-width="0.75" />
<line x1="128.50" y1="245.10" x2="128.50" y2="247.00" stroke="#111" stroke-width="0.75" />
<line x1="130.50" y1="245.10" x2="130.50" y2="247.00" stroke="#111" stroke-width="0.75" />
<line x1="132.50" y1="245.10" x2="132.50" y2="247.00" stroke="#111" stroke-width="0.75" />
<line x1="134.50" y1="245.10" x2="134.50" y2="247.00" stroke="#111" stroke-width="0.75" />
<line x1="136.50" y1="245.10" x2="136.50" y2="247.00" stroke="#111" stroke-width="0.75" />
<line x1="138.00" y1="245.10" x2="138.00" y2="247.00" stroke="#111" stroke-width="0.75" />
<line x1="138.80" y1="245.10" x2="138.80" y2="247.00" stroke="#111" stroke-width="0.75" />
<line x1="139.60" y1="245.10" x2="139.60" y2="247.00" stroke="#111" stroke-width="0.75" />
<line x1="140.40" y1="245.10" x2="140.40" y2="247.00" stroke="#111" stroke-width="0.75" />
<line x1="141.20" y1="245.10" x2="141.20" y2="247.00" stroke="#111" stroke-width="0.75" />
<line x1="142.50" y1="245.10" x2="142.50" y2="247.00" stroke="#111" stroke-width="0.75" />
<line x1="144.50" y1="245.10" x2="144.50" y2="247.00" stroke="#111" stroke-width="0.75" />
<line x1="146.50" y1="245.10" x2="146.50" y2="247.00" stroke="#111" stroke-width="0.75" />
<line x1="148.50" y1="245.10" x2="148.50" y2="247.00" stroke="#111" stroke-width="0.75" />
<line x1="150.50" y1="245.10" x2="150.50" y2="247.00" stroke="#111" stroke-width="0.75" />
<line x1="153.20" y1="245.10" x2="153.20" y2="248.10" stroke="#111" stroke-width="0.75" />
<line x1="160.00" y1="245.10" x2="160.00" y2="247.00" stroke="#111" stroke-width="0.75" />
<line x1="163.98" y1="245.10" x2="163.98" y2="247.00" stroke="#111" stroke-width="0.75" />
<line x1="166.81" y1="245.10" x2="166.81" y2="247.00" stroke="#111" stroke-width="0.75" />
<line x1="169.00" y1="245.10" x2="169.00" y2="247.00" stroke="#111" stroke-width="0.75" />
<line x1="170.79" y1="245.10" x2="170.79" y2="247.00" stroke="#111" stroke-width="0.75" />
<line x1="172.30" y1="245.10" x2="172.30" y2="247.00" stroke="#111" stroke-width="0.75" />
<line x1="173.61" y1="245.10" x2="173.61" y2="247.00" stroke="#111" stroke-width="0.75" />
<line x1="174.77" y1="245.10" x2="174.77" y2="247.00" stroke="#111" stroke-width="0.75" />
<line x1="175.80" y1="245.10" x2="175.80" y2="248.10" stroke="#111" stroke-width="0.75" />
<line x1="181.52" y1="245.10" x2="181.52" y2="247.00" stroke="#111" stroke-width="0.75" />
<line x1="184.87" y1="245.10" x2="184.87" y2="247.00" stroke="#111" stroke-width="0.75" />
<line x1="187.24" y1="245.10" x2="187.24" y2="247.00" stroke="#111" stroke-width="0.75" />
<line x1="189.08" y1="245.10" x2="189.08" y2="247.00" stroke="#111" stroke-width="0.75" />
<line x1="190.58" y1="245.10" x2="190.58" y2="247.00" stroke="#111" stroke-width="0.75" />
<line x1="191.86" y1="245.10" x2="191.86" y2="247.00" stroke="#111" stroke-width="0.75" />
<line x1="192.96" y1="245.10" x2="192.96" y2="247.00" stroke="#111" stroke-width="0.75" />
<line x1="193.93" y1="245.10" x2="193.93" y2="247.00" stroke="#111" stroke-width="0.75" />
<line x1="194.80" y1="245.10" x2="194.80" y2="248.10" stroke="#111" stroke-width="0.75" />
<line x1="199.50" y1="245.10" x2="199.50" y2="247.00" stroke="#111" stroke-width="0.75" />
<text x="52.70" y="161.20" font-size="9.6" text-anchor="start" fill="#1e1e1e" font-weight="normal" stroke="#1e1e1e" stroke-width="0.1" textLength="18.10" lengthAdjust="spacingAndGlyphs">VEH</text>
<text x="153.60" y="161.20" font-size="9.6" text-anchor="start" fill="#1e1e1e" font-weight="normal" stroke="#1e1e1e" stroke-width="0.1" textLength="12.40" lengthAdjust="spacingAndGlyphs">dG</text>
<text x="76.20" y="174.80" font-size="8.2" text-anchor="start" fill="#c8173a" font-weight="normal" stroke="#c8173a" stroke-width="0.1" textLength="20.60" lengthAdjust="spacingAndGlyphs">36.1%</text>
<text x="176.30" y="174.80" font-size="8.2" text-anchor="start" fill="#2a629a" font-weight="normal" stroke="#2a629a" stroke-width="0.1" textLength="20.60" lengthAdjust="spacingAndGlyphs">2.36%</text>
<circle cx="67.3" cy="196.9" r="0.4" fill="#f07070" opacity="0.45"/>
<circle cx="63.3" cy="197.2" r="0.4" fill="#f07070" opacity="0.45"/>
<circle cx="69.5" cy="214.4" r="0.4" fill="#f07070" opacity="0.45"/>
<circle cx="70.8" cy="209.5" r="0.4" fill="#f07070" opacity="0.45"/>
<circle cx="66.0" cy="211.0" r="0.4" fill="#f07070" opacity="0.45"/>
<circle cx="60.3" cy="214.0" r="0.4" fill="#f07070" opacity="0.45"/>
<circle cx="67.5" cy="213.4" r="0.4" fill="#f07070" opacity="0.45"/>
<circle cx="61.9" cy="228.3" r="0.4" fill="#f07070" opacity="0.45"/>
<circle cx="64.3" cy="208.9" r="0.4" fill="#f07070" opacity="0.45"/>
<circle cx="64.8" cy="209.3" r="0.4" fill="#f07070" opacity="0.45"/>
<circle cx="62.1" cy="210.5" r="0.4" fill="#f07070" opacity="0.45"/>
<circle cx="74.1" cy="213.2" r="0.4" fill="#f07070" opacity="0.45"/>
<circle cx="64.9" cy="217.7" r="0.4" fill="#f07070" opacity="0.45"/>
<circle cx="74.1" cy="211.4" r="0.4" fill="#f07070" opacity="0.45"/>
<circle cx="60.9" cy="230.3" r="0.4" fill="#f07070" opacity="0.45"/>
<circle cx="67.3" cy="229.0" r="0.4" fill="#f07070" opacity="0.45"/>
<circle cx="59.3" cy="196.0" r="0.4" fill="#f07070" opacity="0.45"/>
<circle cx="67.3" cy="209.3" r="0.4" fill="#f07070" opacity="0.45"/>
<circle cx="62.1" cy="216.2" r="0.4" fill="#f07070" opacity="0.45"/>
<circle cx="65.1" cy="215.0" r="0.4" fill="#f07070" opacity="0.45"/>
<circle cx="61.8" cy="222.0" r="0.4" fill="#f07070" opacity="0.45"/>
<circle cx="71.5" cy="213.2" r="0.4" fill="#f07070" opacity="0.45"/>
<circle cx="61.7" cy="218.1" r="0.4" fill="#f07070" opacity="0.45"/>
<circle cx="66.4" cy="205.7" r="0.4" fill="#f07070" opacity="0.45"/>
<circle cx="61.7" cy="220.3" r="0.4" fill="#f07070" opacity="0.45"/>
<circle cx="63.5" cy="210.7" r="0.4" fill="#f07070" opacity="0.45"/>
<circle cx="65.1" cy="212.8" r="0.4" fill="#f07070" opacity="0.45"/>
<circle cx="64.0" cy="199.5" r="0.4" fill="#f07070" opacity="0.45"/>
<circle cx="72.7" cy="214.4" r="0.4" fill="#f07070" opacity="0.45"/>
<circle cx="59.6" cy="219.9" r="0.4" fill="#f07070" opacity="0.45"/>
<circle cx="65.5" cy="213.1" r="0.4" fill="#f07070" opacity="0.45"/>
<circle cx="69.2" cy="228.8" r="0.4" fill="#f07070" opacity="0.45"/>
<circle cx="66.8" cy="224.1" r="0.4" fill="#f07070" opacity="0.45"/>
<circle cx="74.8" cy="205.9" r="0.4" fill="#f07070" opacity="0.45"/>
<circle cx="61.4" cy="218.4" r="0.4" fill="#f07070" opacity="0.45"/>
<circle cx="55.5" cy="211.1" r="0.4" fill="#f07070" opacity="0.45"/>
<circle cx="70.5" cy="220.3" r="0.4" fill="#f07070" opacity="0.45"/>
<circle cx="66.9" cy="199.7" r="0.4" fill="#f07070" opacity="0.45"/>
<circle cx="75.8" cy="216.9" r="0.4" fill="#f07070" opacity="0.45"/>
<circle cx="67.8" cy="216.5" r="0.4" fill="#f07070" opacity="0.45"/>
<circle cx="57.9" cy="226.4" r="0.4" fill="#f07070" opacity="0.45"/>
<circle cx="59.8" cy="211.3" r="0.4" fill="#f07070" opacity="0.45"/>
<circle cx="62.7" cy="217.0" r="0.4" fill="#f07070" opacity="0.45"/>
<circle cx="66.5" cy="214.9" r="0.4" fill="#f07070" opacity="0.45"/>
<circle cx="64.8" cy="214.9" r="0.4" fill="#f07070" opacity="0.45"/>
<circle cx="70.2" cy="212.3" r="0.4" fill="#f07070" opacity="0.45"/>
<circle cx="60.9" cy="215.9" r="0.4" fill="#f07070" opacity="0.45"/>
<circle cx="59.0" cy="215.0" r="0.4" fill="#f07070" opacity="0.45"/>
<circle cx="74.5" cy="218.3" r="0.4" fill="#f07070" opacity="0.45"/>
<circle cx="69.7" cy="214.7" r="0.4" fill="#f07070" opacity="0.45"/>
<circle cx="65.4" cy="209.9" r="0.4" fill="#f07070" opacity="0.45"/>
<circle cx="62.6" cy="196.0" r="0.4" fill="#f07070" opacity="0.45"/>
<circle cx="68.2" cy="217.6" r="0.4" fill="#f07070" opacity="0.45"/>
<circle cx="69.7" cy="223.9" r="0.4" fill="#f07070" opacity="0.45"/>
<circle cx="62.5" cy="220.4" r="0.4" fill="#f07070" opacity="0.45"/>
<circle cx="73.8" cy="212.9" r="0.4" fill="#f07070" opacity="0.45"/>
<circle cx="69.4" cy="211.8" r="0.4" fill="#f07070" opacity="0.45"/>
<circle cx="55.9" cy="213.8" r="0.4" fill="#f07070" opacity="0.45"/>
<circle cx="59.9" cy="213.8" r="0.4" fill="#f07070" opacity="0.45"/>
<circle cx="61.7" cy="215.2" r="0.4" fill="#f07070" opacity="0.45"/>
<circle cx="53.3" cy="227.6" r="0.4" fill="#f07070" opacity="0.45"/>
<circle cx="70.8" cy="210.5" r="0.4" fill="#f07070" opacity="0.45"/>
<circle cx="59.5" cy="213.0" r="0.4" fill="#f07070" opacity="0.45"/>
<circle cx="175.4" cy="209.2" r="0.4" fill="#7f9ad0" opacity="0.55"/>
<circle cx="173.2" cy="185.3" r="0.4" fill="#7f9ad0" opacity="0.55"/>
<circle cx="161.0" cy="218.4" r="0.4" fill="#7f9ad0" opacity="0.55"/>
<circle cx="171.9" cy="189.8" r="0.4" fill="#7f9ad0" opacity="0.55"/>
<circle cx="163.1" cy="190.5" r="0.4" fill="#7f9ad0" opacity="0.55"/>
<circle cx="161.8" cy="216.8" r="0.4" fill="#7f9ad0" opacity="0.55"/>
<circle cx="168.2" cy="216.3" r="0.4" fill="#7f9ad0" opacity="0.55"/>
<circle cx="171.5" cy="189.8" r="0.4" fill="#7f9ad0" opacity="0.55"/>
<circle cx="164.7" cy="228.2" r="0.4" fill="#7f9ad0" opacity="0.55"/>
<circle cx="163.8" cy="194.3" r="0.4" fill="#7f9ad0" opacity="0.55"/>
<circle cx="180.0" cy="205.9" r="0.4" fill="#7f9ad0" opacity="0.55"/>
<circle cx="169.9" cy="219.9" r="0.4" fill="#7f9ad0" opacity="0.55"/>
<circle cx="155.7" cy="209.3" r="0.4" fill="#7f9ad0" opacity="0.55"/>
<circle cx="161.4" cy="190.7" r="0.4" fill="#7f9ad0" opacity="0.55"/>
<circle cx="163.4" cy="216.7" r="0.4" fill="#7f9ad0" opacity="0.55"/>
<circle cx="168.9" cy="186.3" r="0.4" fill="#7f9ad0" opacity="0.55"/>
<circle cx="160.9" cy="220.6" r="0.4" fill="#7f9ad0" opacity="0.55"/>
<circle cx="178.4" cy="193.9" r="0.4" fill="#7f9ad0" opacity="0.55"/>
<circle cx="189.8" cy="201.3" r="0.4" fill="#7f9ad0" opacity="0.55"/>
<circle cx="160.2" cy="203.6" r="0.4" fill="#7f9ad0" opacity="0.55"/>
<circle cx="177.7" cy="221.5" r="0.4" fill="#7f9ad0" opacity="0.55"/>
<circle cx="178.4" cy="200.6" r="0.4" fill="#7f9ad0" opacity="0.55"/>
<circle cx="165.4" cy="190.1" r="0.4" fill="#7f9ad0" opacity="0.55"/>
<circle cx="169.4" cy="198.9" r="0.4" fill="#7f9ad0" opacity="0.55"/>
<circle cx="172.0" cy="192.1" r="0.4" fill="#7f9ad0" opacity="0.55"/>
<circle cx="165.8" cy="196.0" r="0.4" fill="#7f9ad0" opacity="0.55"/>
<circle cx="160.2" cy="192.9" r="0.4" fill="#7f9ad0" opacity="0.55"/>
<circle cx="161.7" cy="192.9" r="0.4" fill="#7f9ad0" opacity="0.55"/>
<circle cx="174.7" cy="206.0" r="0.4" fill="#7f9ad0" opacity="0.55"/>
<circle cx="159.2" cy="210.2" r="0.4" fill="#7f9ad0" opacity="0.55"/>
<circle cx="172.4" cy="219.9" r="0.4" fill="#7f9ad0" opacity="0.55"/>
<circle cx="168.4" cy="202.9" r="0.4" fill="#7f9ad0" opacity="0.55"/>
<circle cx="164.4" cy="206.3" r="0.4" fill="#7f9ad0" opacity="0.55"/>
<circle cx="174.0" cy="206.8" r="0.4" fill="#7f9ad0" opacity="0.55"/>
<circle cx="167.9" cy="210.8" r="0.4" fill="#7f9ad0" opacity="0.55"/>
<circle cx="170.8" cy="207.5" r="0.4" fill="#7f9ad0" opacity="0.55"/>
<circle cx="162.4" cy="207.1" r="0.4" fill="#7f9ad0" opacity="0.55"/>
<circle cx="161.8" cy="196.4" r="0.4" fill="#7f9ad0" opacity="0.55"/>
<circle cx="171.3" cy="226.5" r="0.4" fill="#7f9ad0" opacity="0.55"/>
<circle cx="178.2" cy="205.0" r="0.4" fill="#7f9ad0" opacity="0.55"/>
<circle cx="168.5" cy="215.1" r="0.4" fill="#7f9ad0" opacity="0.55"/>
<circle cx="181.3" cy="217.5" r="0.4" fill="#7f9ad0" opacity="0.55"/>
<circle cx="168.5" cy="206.9" r="0.4" fill="#7f9ad0" opacity="0.55"/>
<circle cx="167.3" cy="202.1" r="0.4" fill="#7f9ad0" opacity="0.55"/>
<circle cx="163.0" cy="202.4" r="0.4" fill="#7f9ad0" opacity="0.55"/>
<circle cx="152.4" cy="192.7" r="0.4" fill="#7f9ad0" opacity="0.55"/>
<circle cx="173.5" cy="195.5" r="0.4" fill="#7f9ad0" opacity="0.55"/>
<circle cx="174.4" cy="191.8" r="0.4" fill="#7f9ad0" opacity="0.55"/>
<circle cx="167.0" cy="209.0" r="0.4" fill="#7f9ad0" opacity="0.55"/>
<circle cx="161.5" cy="197.7" r="0.4" fill="#7f9ad0" opacity="0.55"/>
<path transform="translate(1.6,1.8)" d="M57.2,195.9 C57.5,192 60.5,187.5 63,185.6 C66,183 70,181.8 73.3,181.9 C76,182 78.8,184.6 79.7,188.7 C80.2,192 78.8,196 76.9,198.7 C75,201.5 71.5,205 68.3,205.5 C65,205.8 60.5,204 58.6,201.6 C57.6,200 57.1,198 57.2,195.9 Z" fill="none" stroke="#ed2324" stroke-width="0.5" opacity="0.55"/>
<path transform="translate(1.0,1.1)" d="M57.2,195.9 C57.5,192 60.5,187.5 63,185.6 C66,183 70,181.8 73.3,181.9 C76,182 78.8,184.6 79.7,188.7 C80.2,192 78.8,196 76.9,198.7 C75,201.5 71.5,205 68.3,205.5 C65,205.8 60.5,204 58.6,201.6 C57.6,200 57.1,198 57.2,195.9 Z" fill="none" stroke="#ed2324" stroke-width="0.5" opacity="0.7"/>
<path transform="translate(0.5,0.5)" d="M57.2,195.9 C57.5,192 60.5,187.5 63,185.6 C66,183 70,181.8 73.3,181.9 C76,182 78.8,184.6 79.7,188.7 C80.2,192 78.8,196 76.9,198.7 C75,201.5 71.5,205 68.3,205.5 C65,205.8 60.5,204 58.6,201.6 C57.6,200 57.1,198 57.2,195.9 Z" fill="none" stroke="#ed2324" stroke-width="0.5" opacity="0.85"/>
<path d="M57.2,195.9 C57.5,192 60.5,187.5 63,185.6 C66,183 70,181.8 73.3,181.9 C76,182 78.8,184.6 79.7,188.7 C80.2,192 78.8,196 76.9,198.7 C75,201.5 71.5,205 68.3,205.5 C65,205.8 60.5,204 58.6,201.6 C57.6,200 57.1,198 57.2,195.9 Z" fill="#ed2324"/>
<ellipse cx="57.5" cy="220.8" rx="3.9" ry="5.4" fill="none" stroke="#ed2324" stroke-width="0.7" opacity="0.85"/>
<ellipse cx="57.5" cy="220.8" rx="2.1" ry="3.8" fill="none" stroke="#ed2324" stroke-width="0.7" opacity="0.7"/>
<path transform="translate(0.6,-0.9)" d="M41.1,219.9 C43,217.8 45.5,215 48.3,213.5 C50,212.7 51.5,212.5 52.5,212.5 C54.5,212.7 56.5,213.6 57.4,215" fill="none" stroke="#ed2324" stroke-width="0.6" opacity="0.5"/>
<path transform="translate(1.2,-1.6)" d="M41.1,219.9 C43,217.8 45.5,215 48.3,213.5 C50,212.7 51.5,212.5 52.5,212.5 C54.5,212.7 56.5,213.6 57.4,215" fill="none" stroke="#ed2324" stroke-width="0.6" opacity="0.35"/>
<path d="M38.6,224.6 C39,222 40.5,220.5 41.1,219.9 C43,217.8 45.5,215 48.3,213.5 C50,212.7 51.5,212.5 52.5,212.5 C54.5,212.7 56.5,213.6 57.4,215 C58.2,217 58.2,222 57.6,224.6 C57.4,226.5 56.6,227.6 55.5,228.3 C53.5,229.6 50.5,230.3 48.3,230.4 C45,230.6 42,230.2 40.4,228.9 C39.2,227.8 38.6,226.3 38.6,224.6 Z" fill="#ed2324"/>
<ellipse cx="156.8" cy="221.9" rx="8.6" ry="5.5" fill="none" stroke="#0e4f8a" stroke-width="1.0"/>
<ellipse cx="157.6" cy="222.0" rx="4.1" ry="3.0" fill="none" stroke="#0e4f8a" stroke-width="1.0"/>
<ellipse cx="157.6" cy="222.2" rx="2.4" ry="2.0" fill="none" stroke="#0e4f8a" stroke-width="1.0"/>
<path d="M137.9,225 C137.5,221 142,218.4 146.5,217.4 C150.5,216.6 154.5,216.4 157.4,216.8 C158.6,218 158.8,227 157.6,229.2 C155,230.2 151,231.1 147,231.2 C142,231.3 138.3,229 137.9,225 Z" fill="#0e4f8a"/>
<circle cx="175.6" cy="189.4" r="3.0" fill="none" stroke="#0e4f8a" stroke-width="1.3"/>
<line x1="57.90" y1="164.40" x2="57.90" y2="244.90" stroke="#111" stroke-width="1.15" />
<line x1="21.40" y1="208.40" x2="102.30" y2="208.40" stroke="#111" stroke-width="1.15" />
<rect x="21.4" y="164.4" width="80.90" height="80.50" fill="none" stroke="#000" stroke-width="1.3"/>
<line x1="157.50" y1="164.40" x2="157.50" y2="245.10" stroke="#111" stroke-width="1.15" />
<line x1="121.50" y1="208.50" x2="202.30" y2="208.50" stroke="#111" stroke-width="1.15" />
<rect x="121.5" y="164.4" width="80.80" height="80.70" fill="none" stroke="#000" stroke-width="1.3"/>
<line x1="9.50" y1="220.70" x2="9.50" y2="169.00" stroke="#000" stroke-width="1" />
<path d="M6.4,170.6 L9.5,165.1 L12.6,170.6 Z" fill="#000"/>
<text transform="translate(11.90,233.10) rotate(-90)" x="0" y="0" font-size="8.3" text-anchor="middle" fill="#1e1e1e" font-weight="normal" stroke="#1e1e1e" stroke-width="0.1" textLength="21.40" lengthAdjust="spacingAndGlyphs">CD33</text>
<text x="24.20" y="258.40" font-size="8.3" text-anchor="start" fill="#1e1e1e" font-weight="normal" stroke="#1e1e1e" stroke-width="0.1" textLength="20.00" lengthAdjust="spacingAndGlyphs">CD45</text>
<line x1="49.00" y1="255.50" x2="197.00" y2="255.50" stroke="#000" stroke-width="1" />
<path d="M195.8,252.4 L201.2,255.5 L195.8,258.6 Z" fill="#000"/>
<line x1="39.30" y1="306.90" x2="39.30" y2="401.10" stroke="#000" stroke-width="1" />
<line x1="36.30" y1="400.60" x2="112.60" y2="400.60" stroke="#000" stroke-width="1" />
<line x1="36.10" y1="310.70" x2="39.30" y2="310.70" stroke="#000" stroke-width="1" />
<text x="24.90" y="313.45" font-size="7.9" text-anchor="start" fill="#1e1e1e" font-weight="normal" stroke="#1e1e1e" stroke-width="0.1" textLength="8.50" lengthAdjust="spacingAndGlyphs">40</text>
<line x1="36.10" y1="333.20" x2="39.30" y2="333.20" stroke="#000" stroke-width="1" />
<text x="24.90" y="335.95" font-size="7.9" text-anchor="start" fill="#1e1e1e" font-weight="normal" stroke="#1e1e1e" stroke-width="0.1" textLength="8.50" lengthAdjust="spacingAndGlyphs">30</text>
<line x1="36.10" y1="355.80" x2="39.30" y2="355.80" stroke="#000" stroke-width="1" />
<text x="24.90" y="358.55" font-size="7.9" text-anchor="start" fill="#1e1e1e" font-weight="normal" stroke="#1e1e1e" stroke-width="0.1" textLength="8.50" lengthAdjust="spacingAndGlyphs">20</text>
<line x1="36.10" y1="378.30" x2="39.30" y2="378.30" stroke="#000" stroke-width="1" />
<text x="24.90" y="381.05" font-size="7.9" text-anchor="start" fill="#1e1e1e" font-weight="normal" stroke="#1e1e1e" stroke-width="0.1" textLength="8.50" lengthAdjust="spacingAndGlyphs">10</text>
<line x1="36.10" y1="400.60" x2="39.30" y2="400.60" stroke="#000" stroke-width="1" />
<text x="29.20" y="403.35" font-size="7.9" text-anchor="start" fill="#1e1e1e" font-weight="normal" stroke="#1e1e1e" stroke-width="0.1" textLength="4.20" lengthAdjust="spacingAndGlyphs">0</text>
<line x1="56.40" y1="400.60" x2="56.40" y2="403.20" stroke="#000" stroke-width="1" />
<line x1="94.90" y1="400.60" x2="94.90" y2="403.20" stroke="#000" stroke-width="1" />
<text x="56.40" y="413.50" font-size="8.8" text-anchor="middle" fill="#1e1e1e" font-weight="normal" stroke="#1e1e1e" stroke-width="0.1" textLength="15.80" lengthAdjust="spacingAndGlyphs">VEH</text>
<text x="94.90" y="413.50" font-size="8.8" text-anchor="middle" fill="#1e1e1e" font-weight="normal" stroke="#1e1e1e" stroke-width="0.1" textLength="10.50" lengthAdjust="spacingAndGlyphs">dG</text>
<text x="65.30" y="300.70" font-size="9.7" text-anchor="start" fill="#1e1e1e" font-weight="normal" stroke="#1e1e1e" stroke-width="0.1" textLength="34.10" lengthAdjust="spacingAndGlyphs">1st BMT</text>
<line x1="55.50" y1="313.80" x2="98.00" y2="313.80" stroke="#7a7a7a" stroke-width="1.7" />
<circle cx="81.10" cy="309.70" r="1.15" fill="#222" />
<circle cx="85.10" cy="309.70" r="1.15" fill="#222" />
<circle cx="49.80" cy="318.60" r="1.75" fill="#c41432" />
<circle cx="54.60" cy="318.80" r="1.75" fill="#c41432" />
<circle cx="58.90" cy="319.30" r="1.75" fill="#c41432" />
<circle cx="63.40" cy="319.70" r="1.75" fill="#c41432" />
<circle cx="54.50" cy="322.60" r="1.75" fill="#c41432" />
<circle cx="54.60" cy="326.00" r="1.75" fill="#c41432" />
<circle cx="58.90" cy="326.00" r="1.75" fill="#c41432" />
<circle cx="56.80" cy="344.50" r="1.75" fill="#c41432" />
<circle cx="88.10" cy="394.50" r="1.75" fill="#155087" />
<circle cx="94.90" cy="394.50" r="1.75" fill="#155087" />
<circle cx="101.80" cy="395.70" r="1.75" fill="#155087" />
<circle cx="88.10" cy="399.10" r="1.75" fill="#155087" />
<circle cx="94.90" cy="399.40" r="1.75" fill="#155087" />
<circle cx="101.80" cy="400.10" r="1.75" fill="#155087" />
<circle cx="91.50" cy="397.10" r="1.75" fill="#155087" />
<line x1="47.90" y1="324.50" x2="65.00" y2="324.50" stroke="#111" stroke-width="1.2" />
<line x1="56.50" y1="321.40" x2="56.50" y2="327.30" stroke="#111" stroke-width="1.0" />
<line x1="52.10" y1="321.40" x2="60.90" y2="321.40" stroke="#111" stroke-width="1.0" />
<line x1="52.10" y1="327.30" x2="60.90" y2="327.30" stroke="#111" stroke-width="1.0" />
<line x1="86.60" y1="397.10" x2="103.70" y2="397.10" stroke="#111" stroke-width="1.2" />
<line x1="94.90" y1="395.90" x2="94.90" y2="398.30" stroke="#111" stroke-width="1.0" />
<line x1="91.40" y1="395.90" x2="98.40" y2="395.90" stroke="#111" stroke-width="1.0" />
<line x1="91.40" y1="398.30" x2="98.40" y2="398.30" stroke="#111" stroke-width="1.0" />
<text transform="translate(19.10,353.5) rotate(-90)" font-size="8.3" text-anchor="middle" fill="#1e1e1e" stroke="#1e1e1e" stroke-width="0.1" textLength="87" lengthAdjust="spacingAndGlyphs">hCD45<tspan dy="-2.8" font-size="5.5">+</tspan><tspan dy="2.8"> cells (% total BM)</tspan></text>
<line x1="237.40" y1="306.10" x2="237.40" y2="401.50" stroke="#000" stroke-width="1" />
<line x1="234.40" y1="401.00" x2="310.50" y2="401.00" stroke="#000" stroke-width="1" />
<line x1="234.20" y1="309.30" x2="237.40" y2="309.30" stroke="#000" stroke-width="1" />
<text x="219.50" y="312.05" font-size="7.9" text-anchor="start" fill="#1e1e1e" font-weight="normal" stroke="#1e1e1e" stroke-width="0.1" textLength="13.10" lengthAdjust="spacingAndGlyphs">100</text>
<line x1="234.20" y1="340.00" x2="237.40" y2="340.00" stroke="#000" stroke-width="1" />
<text x="223.00" y="342.75" font-size="7.9" text-anchor="start" fill="#1e1e1e" font-weight="normal" stroke="#1e1e1e" stroke-width="0.1" textLength="9.60" lengthAdjust="spacingAndGlyphs">10</text>
<line x1="234.20" y1="370.70" x2="237.40" y2="370.70" stroke="#000" stroke-width="1" />
<text x="228.00" y="373.45" font-size="7.9" text-anchor="start" fill="#1e1e1e" font-weight="normal" stroke="#1e1e1e" stroke-width="0.1" textLength="4.60" lengthAdjust="spacingAndGlyphs">1</text>
<line x1="234.20" y1="401.00" x2="237.40" y2="401.00" stroke="#000" stroke-width="1" />
<text x="220.00" y="403.75" font-size="7.9" text-anchor="start" fill="#1e1e1e" font-weight="normal" stroke="#1e1e1e" stroke-width="0.1" textLength="12.60" lengthAdjust="spacingAndGlyphs">0.1</text>
<line x1="235.60" y1="330.76" x2="237.40" y2="330.76" stroke="#000" stroke-width="0.6" />
<line x1="235.60" y1="325.35" x2="237.40" y2="325.35" stroke="#000" stroke-width="0.6" />
<line x1="235.60" y1="321.52" x2="237.40" y2="321.52" stroke="#000" stroke-width="0.6" />
<line x1="235.60" y1="318.54" x2="237.40" y2="318.54" stroke="#000" stroke-width="0.6" />
<line x1="235.60" y1="316.11" x2="237.40" y2="316.11" stroke="#000" stroke-width="0.6" />
<line x1="235.60" y1="314.06" x2="237.40" y2="314.06" stroke="#000" stroke-width="0.6" />
<line x1="235.60" y1="312.28" x2="237.40" y2="312.28" stroke="#000" stroke-width="0.6" />
<line x1="235.60" y1="310.70" x2="237.40" y2="310.70" stroke="#000" stroke-width="0.6" />
<line x1="235.60" y1="361.46" x2="237.40" y2="361.46" stroke="#000" stroke-width="0.6" />
<line x1="235.60" y1="356.05" x2="237.40" y2="356.05" stroke="#000" stroke-width="0.6" />
<line x1="235.60" y1="352.22" x2="237.40" y2="352.22" stroke="#000" stroke-width="0.6" />
<line x1="235.60" y1="349.24" x2="237.40" y2="349.24" stroke="#000" stroke-width="0.6" />
<line x1="235.60" y1="346.81" x2="237.40" y2="346.81" stroke="#000" stroke-width="0.6" />
<line x1="235.60" y1="344.76" x2="237.40" y2="344.76" stroke="#000" stroke-width="0.6" />
<line x1="235.60" y1="342.98" x2="237.40" y2="342.98" stroke="#000" stroke-width="0.6" />
<line x1="235.60" y1="341.40" x2="237.40" y2="341.40" stroke="#000" stroke-width="0.6" />
<line x1="235.60" y1="392.16" x2="237.40" y2="392.16" stroke="#000" stroke-width="0.6" />
<line x1="235.60" y1="386.75" x2="237.40" y2="386.75" stroke="#000" stroke-width="0.6" />
<line x1="235.60" y1="382.92" x2="237.40" y2="382.92" stroke="#000" stroke-width="0.6" />
<line x1="235.60" y1="379.94" x2="237.40" y2="379.94" stroke="#000" stroke-width="0.6" />
<line x1="235.60" y1="377.51" x2="237.40" y2="377.51" stroke="#000" stroke-width="0.6" />
<line x1="235.60" y1="375.46" x2="237.40" y2="375.46" stroke="#000" stroke-width="0.6" />
<line x1="235.60" y1="373.68" x2="237.40" y2="373.68" stroke="#000" stroke-width="0.6" />
<line x1="235.60" y1="372.10" x2="237.40" y2="372.10" stroke="#000" stroke-width="0.6" />
<line x1="252.50" y1="401.00" x2="252.50" y2="403.60" stroke="#000" stroke-width="1" />
<line x1="295.80" y1="401.00" x2="295.80" y2="403.60" stroke="#000" stroke-width="1" />
<text x="252.50" y="413.50" font-size="8.8" text-anchor="middle" fill="#1e1e1e" font-weight="normal" stroke="#1e1e1e" stroke-width="0.1" textLength="15.80" lengthAdjust="spacingAndGlyphs">VEH</text>
<text x="295.80" y="413.50" font-size="8.8" text-anchor="middle" fill="#1e1e1e" font-weight="normal" stroke="#1e1e1e" stroke-width="0.1" textLength="10.50" lengthAdjust="spacingAndGlyphs">dG</text>
<text x="248.20" y="300.70" font-size="9.7" text-anchor="start" fill="#1e1e1e" font-weight="normal" stroke="#1e1e1e" stroke-width="0.1" textLength="38.40" lengthAdjust="spacingAndGlyphs">2nd BMT</text>
<line x1="253.40" y1="313.80" x2="296.10" y2="313.80" stroke="#7a7a7a" stroke-width="1.7" />
<circle cx="266.50" cy="309.70" r="1.15" fill="#222" />
<circle cx="270.50" cy="309.70" r="1.15" fill="#222" />
<circle cx="244.20" cy="322.00" r="1.75" fill="#c41432" />
<circle cx="252.50" cy="319.80" r="1.75" fill="#c41432" />
<circle cx="260.80" cy="322.50" r="1.75" fill="#c41432" />
<circle cx="244.20" cy="330.70" r="1.75" fill="#c41432" />
<circle cx="252.50" cy="326.70" r="1.75" fill="#c41432" />
<circle cx="260.80" cy="327.70" r="1.75" fill="#c41432" />
<circle cx="295.80" cy="359.10" r="1.75" fill="#155087" />
<circle cx="292.00" cy="377.60" r="1.75" fill="#155087" />
<circle cx="299.60" cy="377.60" r="1.75" fill="#155087" />
<circle cx="292.00" cy="386.70" r="1.75" fill="#155087" />
<circle cx="299.60" cy="386.70" r="1.75" fill="#155087" />
<circle cx="295.80" cy="391.90" r="1.75" fill="#155087" />
<line x1="242.10" y1="324.30" x2="262.90" y2="324.30" stroke="#111" stroke-width="1.2" />
<line x1="252.50" y1="322.50" x2="252.50" y2="326.30" stroke="#111" stroke-width="1.0" />
<line x1="247.30" y1="322.50" x2="257.70" y2="322.50" stroke="#111" stroke-width="1.0" />
<line x1="247.30" y1="326.30" x2="257.70" y2="326.30" stroke="#111" stroke-width="1.0" />
<line x1="285.30" y1="374.90" x2="306.30" y2="374.90" stroke="#111" stroke-width="1.2" />
<line x1="295.80" y1="369.60" x2="295.80" y2="383.50" stroke="#111" stroke-width="1.0" />
<line x1="290.60" y1="369.60" x2="301.00" y2="369.60" stroke="#111" stroke-width="1.0" />
<line x1="290.60" y1="383.50" x2="301.00" y2="383.50" stroke="#111" stroke-width="1.0" />
<text transform="translate(214.80,353.5) rotate(-90)" font-size="8.3" text-anchor="middle" fill="#1e1e1e" stroke="#1e1e1e" stroke-width="0.1" textLength="87" lengthAdjust="spacingAndGlyphs">hCD45<tspan dy="-2.8" font-size="5.5">+</tspan><tspan dy="2.8"> cells (% total BM)</tspan></text>
<text x="466.00" y="306.80" font-size="8.6" text-anchor="start" fill="#1e1e1e" font-weight="normal" stroke="#1e1e1e" stroke-width="0.05" textLength="30.00" lengthAdjust="spacingAndGlyphs">Ara-GTP</text>
<line x1="481.20" y1="309.80" x2="481.20" y2="316.60" stroke="#000" stroke-width="1.4" />
<path d="M478.0,315.3 L481.2,320.6 L484.4,315.3 Z" fill="#000"/>
<text x="410.30" y="326.80" font-size="8.6" text-anchor="start" fill="#1e1e1e" font-weight="normal" stroke="#1e1e1e" stroke-width="0.05" textLength="27.10" lengthAdjust="spacingAndGlyphs">COH29</text>
<line x1="440.60" y1="324.80" x2="449.80" y2="324.80" stroke="#000" stroke-width="1.0" />
<line x1="449.80" y1="322.20" x2="449.80" y2="327.60" stroke="#000" stroke-width="1.2" />
<text x="454.80" y="327.80" font-size="8.6" text-anchor="start" fill="#1e1e1e" font-weight="normal" stroke="#1e1e1e" stroke-width="0.05" textLength="52.40" lengthAdjust="spacingAndGlyphs">RNR activation</text>
<line x1="481.20" y1="331.20" x2="481.20" y2="338.40" stroke="#000" stroke-width="1.4" />
<path d="M478.0,337.09999999999997 L481.2,342.4 L484.4,337.09999999999997 Z" fill="#000"/>
<text x="404.20" y="358.80" font-size="8.6" text-anchor="start" fill="#1e1e1e" font-weight="normal" stroke="#1e1e1e" stroke-width="0.05" textLength="32.70" lengthAdjust="spacingAndGlyphs">SAMHD1</text>
<line x1="440.40" y1="355.80" x2="450.30" y2="355.80" stroke="#000" stroke-width="1.0" />
<line x1="450.30" y1="352.90" x2="450.30" y2="358.70" stroke="#000" stroke-width="1.2" />
<text x="455.00" y="352.80" font-size="8.6" text-anchor="start" fill="#1e1e1e" font-weight="normal" stroke="#1e1e1e" stroke-width="0.05" textLength="18.80" lengthAdjust="spacingAndGlyphs">dTTP</text>
<line x1="475.60" y1="352.80" x2="475.60" y2="347.00" stroke="#c8173a" stroke-width="0.75" />
<path d="M474.1,348.40000000000003 L475.6,346.40000000000003 L477.1,348.40000000000003" fill="none" stroke="#c8173a" stroke-width="0.8"/>
<text x="480.00" y="352.80" font-size="8.6" text-anchor="start" fill="#1e1e1e" font-weight="normal" stroke="#1e1e1e" stroke-width="0.05" textLength="19.40" lengthAdjust="spacingAndGlyphs">dCTP</text>
<line x1="501.30" y1="352.80" x2="501.30" y2="347.00" stroke="#c8173a" stroke-width="0.75" />
<path d="M499.8,348.40000000000003 L501.3,346.40000000000003 L502.8,348.40000000000003" fill="none" stroke="#c8173a" stroke-width="0.8"/>
<text x="455.00" y="362.00" font-size="8.6" text-anchor="start" fill="#1e1e1e" font-weight="normal" stroke="#1e1e1e" stroke-width="0.05" textLength="18.80" lengthAdjust="spacingAndGlyphs">dATP</text>
<line x1="475.60" y1="362.00" x2="475.60" y2="356.20" stroke="#c8173a" stroke-width="0.75" />
<path d="M474.1,357.6 L475.6,355.6 L477.1,357.6" fill="none" stroke="#c8173a" stroke-width="0.8"/>
<text x="480.60" y="362.00" font-size="8.6" text-anchor="start" fill="#1e1e1e" font-weight="normal" stroke="#1e1e1e" stroke-width="0.05" textLength="20.60" lengthAdjust="spacingAndGlyphs">dGTP</text>
<line x1="503.10" y1="362.00" x2="503.10" y2="356.20" stroke="#c8173a" stroke-width="0.75" />
<path d="M501.6,357.6 L503.1,355.6 L504.6,357.6" fill="none" stroke="#c8173a" stroke-width="0.8"/>
<line x1="507.20" y1="362.00" x2="507.20" y2="356.20" stroke="#c8173a" stroke-width="0.75" />
<path d="M505.7,357.6 L507.2,355.6 L508.7,357.6" fill="none" stroke="#c8173a" stroke-width="0.8"/>
<text x="453.10" y="372.00" font-size="8.6" text-anchor="start" fill="#1e1e1e" font-weight="normal" stroke="#1e1e1e" stroke-width="0.05" textLength="58.20" lengthAdjust="spacingAndGlyphs">dNTP imbalance</text>
<line x1="473.40" y1="374.60" x2="466.20" y2="382.40" stroke="#000" stroke-width="1.4" />
<path d="M463.8,385.4 L464.9,379.4 L469.2,383.3 Z" fill="#000"/>
<line x1="491.20" y1="375.10" x2="498.40" y2="381.60" stroke="#000" stroke-width="1.0" />
<line x1="495.80" y1="384.40" x2="500.80" y2="378.90" stroke="#000" stroke-width="1.2" />
<text x="429.30" y="392.00" font-size="8.6" text-anchor="start" fill="#1e1e1e" font-weight="normal" stroke="#1e1e1e" stroke-width="0.05" textLength="50.80" lengthAdjust="spacingAndGlyphs">Differentiation</text>
<text x="490.00" y="392.00" font-size="8.6" text-anchor="start" fill="#1e1e1e" font-weight="normal" stroke="#1e1e1e" stroke-width="0.05" textLength="16.90" lengthAdjust="spacingAndGlyphs">Self-</text>
<text x="484.70" y="401.60" font-size="8.6" text-anchor="start" fill="#1e1e1e" font-weight="normal" stroke="#1e1e1e" stroke-width="0.05" textLength="27.70" lengthAdjust="spacingAndGlyphs">renewal</text>
</svg>
<div id="b"></div>
</div>
</body></html>
